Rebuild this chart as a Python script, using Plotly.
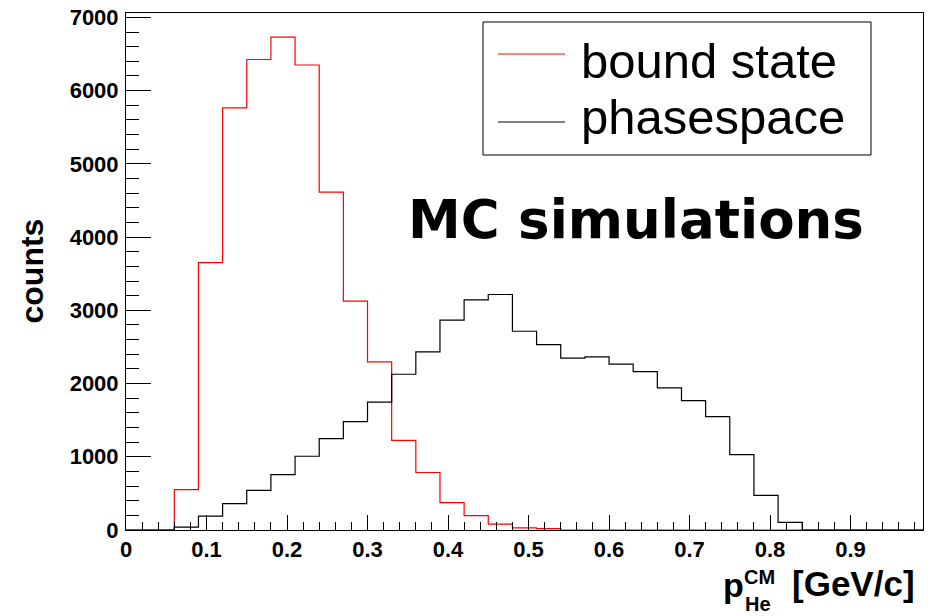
import plotly.graph_objects as go

# histogram binning: 33 bins of 0.03 GeV/c from 0 to 0.99
bin_width = 0.03
n_bins = 33
bin_edges = [round(i * bin_width, 2) for i in range(n_bins + 1)]

bound_state = [
    0, 0, 550, 3650, 5765, 6425, 6730, 6350, 4615, 3125, 2295,
    1225, 785, 375, 195, 80, 30, 20, 0, 0, 0, 0,
    0, 0, 0, 0, 0, 0, 0, 0, 0, 0, 0,
]
phasespace = [
    0, 0, 40, 190, 360, 540, 757, 1007, 1249, 1481, 1747,
    2127, 2432, 2865, 3142, 3216, 2714, 2532, 2346, 2364, 2264, 2164,
    1940, 1768, 1548, 1030, 474, 105, 0, 0, 0, 0, 0,
]
series_names = ["bound state", "phasespace"]
series_colors = ["#ff0000", "#000000"]

x_ticks = [0, 0.1, 0.2, 0.3, 0.4, 0.5, 0.6, 0.7, 0.8, 0.9]
y_ticks = [0, 1000, 2000, 3000, 4000, 5000, 6000, 7000]

W, H = 933, 616
# plot frame in window pixels
L, R, T, B = 126, 923, 13, 530


def px(x):
    return (x - L) / (R - L)


def py(y):
    return (B - y) / (B - T)


SANS = "Liberation Sans, Arial, sans-serif"

fig = go.Figure()
for name, values, color in zip(series_names, [bound_state, phasespace], series_colors):
    fig.add_trace(
        go.Scatter(
            x=bin_edges,
            y=values + [values[-1]],
            name=name,
            mode="lines",
            line=dict(color=color, width=1.2, shape="hv"),
            showlegend=False,
        )
    )

axis_style = dict(
    ticks="inside",
    tickwidth=1,
    tickcolor="black",
    showline=True,
    linecolor="black",
    linewidth=1,
    mirror=True,
    showgrid=False,
    zeroline=False,
    automargin=False,
    ticklabeloverflow="allow",
    tickfont=dict(family=SANS, size=22, color="black", weight="bold"),
)
fig.update_xaxes(
    range=[0, 0.99],
    tickvals=x_ticks,
    ticktext=[f"{v:g}" for v in x_ticks],
    ticklen=15,
    minor=dict(dtick=0.02, tick0=0, ticks="inside", ticklen=8, tickcolor="black"),
    **axis_style,
)
fig.update_yaxes(
    range=[0, 7060],
    tickvals=y_ticks,
    ticktext=[str(v) for v in y_ticks],
    ticklen=25,
    ticklabelstandoff=2,
    minor=dict(dtick=200, tick0=0, ticks="inside", ticklen=13, tickcolor="black"),
    **axis_style,
)

annotations = [
    # axis titles
    dict(text="counts", x=px(31), y=py(271.5), textangle=-90, xanchor="center",
         font=dict(family=SANS, size=32, weight="bold")),
    dict(text="p", x=px(721), y=py(584.5), xanchor="left",
         font=dict(family=SANS, size=34, weight="bold")),
    dict(text="CM", x=px(742), y=py(577), xanchor="left",
         font=dict(family=SANS, size=20, weight="bold")),
    dict(text="He", x=px(743), y=py(604), xanchor="left",
         font=dict(family=SANS, size=20, weight="bold")),
    dict(text="[GeV/c]", x=px(917), y=py(584), xanchor="right",
         font=dict(family=SANS, size=35, weight="bold")),
    # label inside the frame
    dict(text="MC simulations", x=px(406), y=py(219), xanchor="left",
         font=dict(family="DejaVu Sans", size=53, weight="bold")),
]

# hand-drawn ROOT style legend box
legend_rows = [61, 117]
legend_lines = [54, 122]
shapes = [
    dict(type="rect", xref="paper", yref="paper",
         x0=px(483), x1=px(871), y0=py(155), y1=py(22),
         line=dict(color="black", width=1), fillcolor="white", layer="below"),
]
for name, color, ty, ly in zip(series_names, series_colors, legend_rows, legend_lines):
    shapes.append(dict(type="line", xref="paper", yref="paper",
                       x0=px(498), x1=px(565), y0=py(ly), y1=py(ly),
                       line=dict(color=color, width=1)))
    annotations.append(dict(text=name, x=px(579), y=py(ty), xanchor="left",
                            font=dict(family=SANS, size=49)))

for a in annotations:
    a.setdefault("xref", "paper")
    a.setdefault("yref", "paper")
    a.setdefault("yanchor", "middle")
    a["showarrow"] = False
    a["font"].setdefault("color", "black")

fig.update_layout(
    width=W,
    height=H,
    autosize=False,
    margin=dict(l=L, r=W - R, t=T, b=H - B, autoexpand=False),
    paper_bgcolor="white",
    plot_bgcolor="white",
    showlegend=False,
    annotations=annotations,
    shapes=shapes,
)

# drop the default page margin so the figure sits at the window corner
fig.write_html(
    "out.html",
    config={"displayModeBar": False},
    post_script="document.body.style.margin='0';",
)
